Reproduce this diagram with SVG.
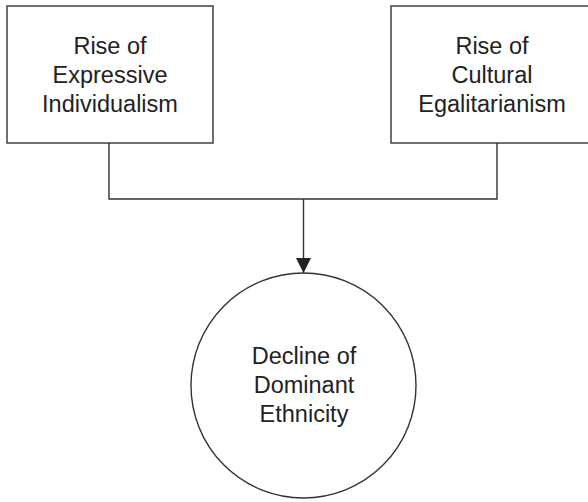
<svg xmlns="http://www.w3.org/2000/svg" width="588" height="502" viewBox="0 0 588 502">
<style>
.box{fill:#fff;stroke:#333;stroke-width:1.4}
.lbl{font-family:"Liberation Sans",Arial,sans-serif;font-size:23.5px;fill:#222;text-anchor:middle}
.conn{fill:none;stroke:#333;stroke-width:1.4}
</style>
<defs>
<marker id="arr" markerUnits="userSpaceOnUse" markerWidth="16" markerHeight="16" refX="15" refY="7.5" orient="auto">
<path d="M0,0 L15,7.5 L0,15 Z" fill="#222"/>
</marker>
</defs>
<rect width="588" height="502" fill="#fff"/>
<g id="connectors">
<path class="conn" d="M109,143 V199 H497 V143"/>
<path class="conn" d="M303.5,199 V273" marker-end="url(#arr)"/>
</g>
<g id="node-expressive">
<rect class="box" x="7" y="6" width="206" height="137"/>
<text class="lbl" x="110" y="54">Rise of</text>
<text class="lbl" x="110" y="83">Expressive</text>
<text class="lbl" x="110" y="112">Individualism</text>
</g>
<g id="node-egalitarian">
<rect class="box" x="391" y="6" width="206" height="137"/>
<text class="lbl" x="492" y="54">Rise of</text>
<text class="lbl" x="492" y="83">Cultural</text>
<text class="lbl" x="492" y="112">Egalitarianism</text>
</g>
<g id="node-decline">
<circle class="box" cx="303.5" cy="385.5" r="112.5"/>
<text class="lbl" x="304" y="364">Decline of</text>
<text class="lbl" x="304" y="393">Dominant</text>
<text class="lbl" x="304" y="422">Ethnicity</text>
</g>
</svg>
